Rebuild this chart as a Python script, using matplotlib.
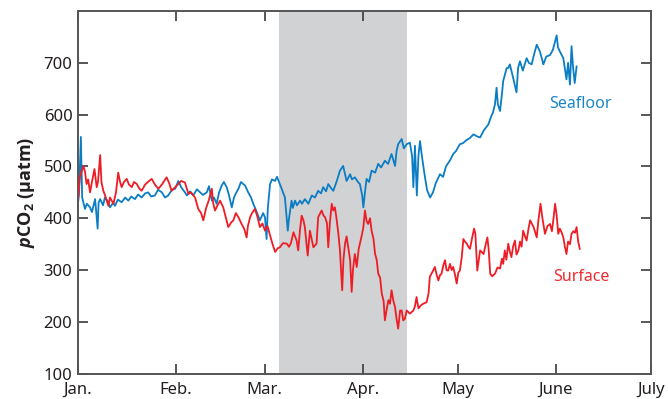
import matplotlib
matplotlib.use('Agg')
import matplotlib.pyplot as plt

plt.rcParams['font.family'] = ['Noto Sans', 'DejaVu Sans']
plt.rcParams['mathtext.fontset'] = 'custom'
plt.rcParams['mathtext.rm'] = 'Open Sans:bold'
plt.rcParams['mathtext.it'] = 'Open Sans:italic:bold'
plt.rcParams['mathtext.bf'] = 'Open Sans:bold'

# day of year (0 = 1 Jan) and pCO2 in uatm
seafloor_day = [
    0.0, 0.3, 0.9, 1.3, 2.2, 2.8, 3.8, 4.4, 5.4, 6.2, 6.5, 7.0, 7.9, 8.5, 9.5,
    10.1, 11.1, 11.7, 12.6, 13.8, 14.9, 15.9, 16.8, 18.0, 19.0, 20.1, 21.2,
    22.2, 23.1, 24.3, 25.3, 26.5, 27.5, 28.5, 29.7, 30.7, 31.7, 32.6, 33.8,
    34.4, 35.4, 36.4, 37.6, 38.6, 39.5, 40.7, 41.4, 42.3, 43.0, 43.8, 44.6,
    45.4, 46.1, 47.0, 47.7, 48.6, 49.3, 49.9, 50.7, 51.5, 52.8, 53.8, 54.7,
    55.4, 56.3, 57.5, 58.5, 59.1, 59.6, 60.0, 60.7, 61.3, 62.3, 62.9, 63.8,
    64.5, 65.4, 66.3, 66.7, 67.5, 67.9, 68.6, 69.2, 70.2, 70.8, 71.7, 72.8,
    73.9, 74.9, 75.9, 76.8, 77.5, 78.4, 79.1, 80.0, 80.7, 81.8, 82.8, 83.8,
    84.4, 84.9, 86.0, 86.6, 87.5, 88.5, 89.1, 89.8, 90.2, 90.7, 91.2, 92.0,
    92.8, 93.9, 94.9, 95.8, 97.0, 98.0, 99.1, 100.2, 100.7, 101.2, 102.3,
    103.0, 103.9, 104.9, 105.6, 106.0, 106.5, 107.1, 107.6, 108.1, 108.7,
    109.4, 110.3, 111.3, 112.2, 113.1, 114.4, 115.4, 116.3, 117.6, 118.6,
    119.5, 120.7, 121.7, 122.6, 123.9, 125.0, 126.1, 127.1, 128.3, 129.7,
    130.5, 131.2, 131.8, 132.3, 132.7, 133.4, 134.0, 134.4, 135.5, 136.0,
    136.5, 137.5, 138.6, 139.1, 139.7, 140.6, 141.8, 142.5, 143.4, 144.1,
    145.0, 146.0, 147.1, 148.0, 149.2, 150.1, 151.3, 151.7, 152.3, 153.4,
    154.4, 154.9, 155.5, 156.0, 156.5, 157.0, 157.6,
]
seafloor_pco2 = [
    430, 445, 557, 440, 418, 428, 421, 412, 437, 380, 430, 437, 425, 440, 432,
    421, 430, 424, 436, 431, 440, 434, 442, 437, 446, 440, 448,
    450, 442, 444, 455, 450, 440, 444, 455, 457, 472, 460, 450,
    444, 452, 444, 456, 450, 445, 450, 462, 434, 440, 428, 450,
    463, 470, 460, 445, 421, 440, 448, 457, 470, 463, 450, 440,
    428, 415, 396, 410, 402, 360, 420, 466, 475, 472, 480, 466,
    455, 440, 376, 400, 434, 420, 434, 425, 434, 428, 437, 428,
    444, 440, 453, 448, 460, 452, 466, 458, 453, 472, 492, 501,
    485, 472, 485, 475, 479, 470, 466, 445, 421, 450, 476, 470,
    492, 488, 505, 498, 511, 505, 524, 501, 530, 543, 553,
    535, 543, 546, 520, 460, 540, 444, 520, 549, 520,
    490, 455, 440, 450, 468, 485, 480, 500, 512, 524,
    530, 543, 545, 550, 555, 562, 558, 556, 570, 581,
    595, 605, 620, 652, 620, 607, 640, 665, 690, 690,
    697, 672, 643, 690, 703, 685, 709, 700, 697, 715,
    735, 722, 697, 712, 715, 725, 753, 730, 722, 709,
    668, 700, 658, 732, 690, 661, 693,
]

surface_day = [
    0.0, 0.6, 1.7, 2.2, 2.7, 3.2, 3.8, 4.4, 5.2, 5.9, 6.3, 7.0, 7.4, 8.0, 8.5,
    9.6, 10.1, 11.2, 12.0, 12.7, 13.3, 13.8, 14.5, 15.4, 16.1, 17.0, 17.7,
    18.6, 19.3, 20.1, 21.2, 22.1, 23.3, 24.3, 25.4, 26.5, 28.0, 28.8, 29.6,
    30.7, 31.7, 32.6, 33.8, 34.9, 35.7, 37.0, 38.0, 38.9, 39.6, 40.5, 41.3,
    42.3, 42.7, 43.3, 44.1, 44.9, 45.9, 46.8, 47.5, 48.4, 49.1, 49.9, 50.7,
    51.7, 52.5, 53.3, 53.7, 54.4, 55.0, 55.9, 56.6, 57.5, 58.3, 59.1, 59.9,
    60.7, 61.5, 62.3, 63.1, 63.8, 64.8, 66.0, 66.7, 67.3, 68.1, 69.1, 69.6,
    70.2, 70.7, 71.3, 71.7, 72.6, 73.3, 74.4, 75.4, 75.9, 77.0, 77.6, 78.1,
    78.7, 79.1, 79.6, 80.2, 80.7, 81.2, 81.7, 82.3, 82.8, 83.5, 83.9, 84.4,
    84.9, 85.4, 86.0, 86.5, 86.9, 87.5, 88.1, 88.7, 89.1, 89.8, 90.2, 90.7,
    91.2, 91.7, 92.3, 92.8, 93.4, 93.9, 94.4, 94.9, 95.5, 96.0, 96.6, 97.0,
    97.6, 98.1, 98.6, 99.1, 99.7, 100.2, 100.7, 101.2, 101.8, 102.3, 102.8,
    103.3, 103.9, 104.4, 104.9, 106.0, 106.5, 107.0, 107.6, 108.4, 109.1,
    110.2, 110.8, 111.2, 111.9, 112.8, 113.4, 113.9, 114.4, 114.9, 115.5,
    116.0, 116.5, 117.0, 117.6, 118.1, 118.6, 119.2, 119.7, 120.2, 120.7,
    121.3, 121.8, 122.3, 122.9, 123.4, 123.9, 124.5, 125.2, 125.6, 126.2,
    127.1, 128.2, 128.7, 129.4, 129.8, 130.3, 130.9, 131.8, 132.6, 133.4,
    134.0, 134.4, 134.9, 135.4, 136.0, 136.5, 137.0, 137.5, 138.1, 138.6,
    139.2, 139.7, 140.2, 140.7, 141.3, 141.8, 142.4, 142.9, 143.4, 144.0,
    144.4, 145.0, 145.5, 146.2, 146.8, 147.6, 148.4, 149.2, 149.8, 150.3,
    150.8, 151.3, 151.8, 152.3, 152.9, 153.4, 153.9, 154.4, 154.9, 155.5,
    156.0, 156.6, 157.1, 157.6, 158.1, 158.6,
]
surface_pco2 = [
    440, 480, 501, 490, 466, 475, 450, 470, 495, 460, 470, 522, 470, 453, 445,
    424, 440, 428, 450, 488, 470, 460, 470, 476, 465, 460, 470,
    466, 458, 453, 465, 470, 476, 465, 457, 465, 479, 468, 453,
    460, 466, 472, 469, 447, 450, 440, 418, 410, 396, 420, 434,
    457, 430, 415, 425, 434, 421, 400, 383, 392, 396, 410, 402,
    389, 380, 363, 385, 402, 410, 418, 405, 383, 390, 376, 385,
    367, 350, 335, 342, 344, 352, 351, 345, 352, 373, 357, 338,
    380, 405, 395, 383, 328, 376, 344, 351, 402, 415, 405, 402,
    390, 344, 390, 428, 415, 421, 400, 370, 338, 261, 320, 351,
    365, 344, 320, 258, 300, 331, 306, 340, 351, 370, 383, 415,
    395, 389, 400, 376, 360, 331, 320, 293, 285, 255, 240, 203,
    225, 242, 235, 261, 240, 229, 205, 187, 222, 222, 203,
    206, 222, 219, 216, 222, 230, 248, 226, 232, 235,
    238, 255, 287, 295, 306, 290, 280, 290, 293, 310,
    319, 300, 299, 312, 300, 306, 290, 274, 295, 299,
    325, 360, 355, 351, 345, 341, 360, 380, 370, 299,
    338, 331, 345, 363, 340, 293, 288, 293, 305, 303,
    322, 312, 338, 320, 351, 335, 325, 345, 357, 330,
    338, 355, 345, 376, 365, 357, 380, 396, 390, 383,
    375, 363, 395, 428, 400, 370, 385, 389, 375, 400,
    428, 405, 370, 380, 372, 363, 345, 331, 355, 350,
    370, 375, 372, 383, 355, 341,
]

# shaded period (day of year)
shade_start = 63.5
shade_end = 104.0

month_starts = [0, 31, 59, 90, 120, 151, 181]
month_labels = ['Jan.', 'Feb.', 'Mar.', 'Apr.', 'May', 'June', 'July']
yticks = [100, 200, 300, 400, 500, 600, 700]

blue = '#0a7dc4'
red = '#ee1d25'

fig = plt.figure(figsize=(6.68, 3.99), dpi=100)
ax = fig.add_axes([0.1168, 0.0634, 0.8572, 0.909])

ax.axvspan(shade_start, shade_end, color='#d1d2d4', lw=0, zorder=0)
ax.plot(seafloor_day, seafloor_pco2, color=blue, lw=1.3, zorder=2)
ax.plot(surface_day, surface_pco2, color=red, lw=1.3, zorder=3)

ax.text(158.7, 621, 'Seafloor', color='#1a86c8', fontsize=11.5,
        ha='center', va='center')
ax.text(159.0, 286, 'Surface', color='#ee2a30', fontsize=11.5,
        ha='center', va='center')

ax.set_xlim(0, 181)
ax.set_ylim(100, 800)
ax.set_xticks(month_starts)
ax.set_xticklabels(month_labels)
ax.set_yticks(yticks)

ax.tick_params(direction='in', length=7, width=1.2, color='#3a3a3a',
               top=True, right=True, labelsize=12, labelcolor='#231f20')
ax.tick_params(axis='x', pad=6)
ax.tick_params(axis='y', pad=4)
for sp in ax.spines.values():
    sp.set_color('#555555')
    sp.set_linewidth(1.4)

ax.set_ylabel(r'$\mathit{p}\mathrm{CO_2}$ (µatm)', fontsize=13,
              family=['Open Sans', 'DejaVu Sans'], fontweight='bold',
              color='#231f20', labelpad=5)

fig.savefig('out.png', dpi=100, facecolor='white')
